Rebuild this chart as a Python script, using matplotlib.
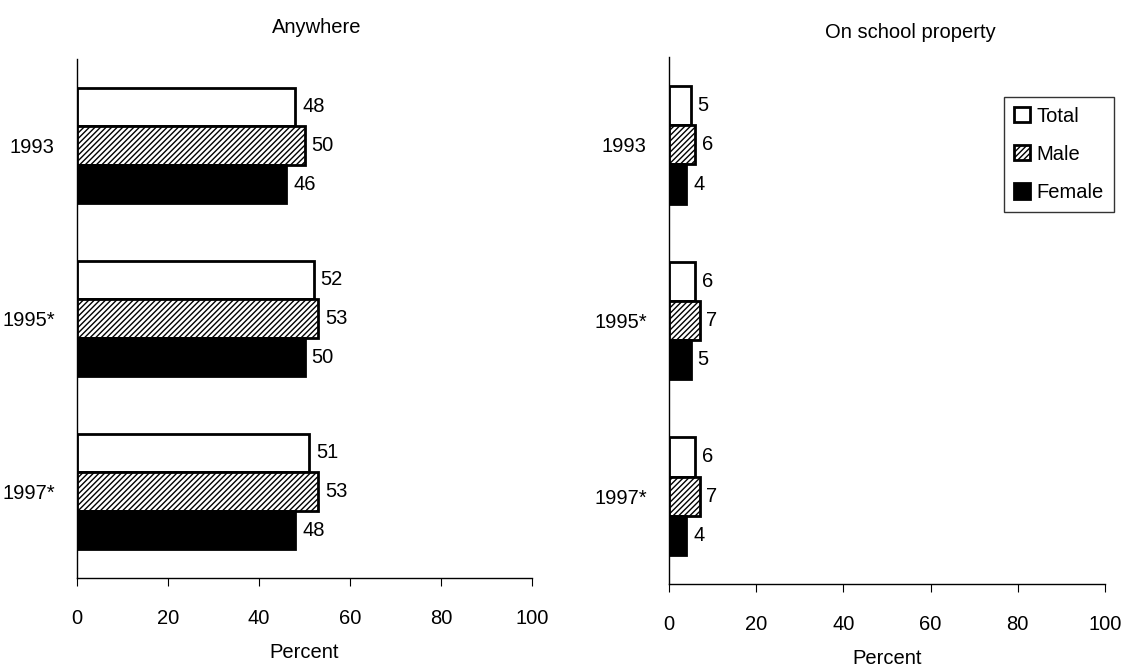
import matplotlib
matplotlib.use("Agg")
from matplotlib import pyplot as plt
import numpy as np

plt.rcParams["font.family"] = ["Liberation Sans Narrow", "Liberation Sans", "DejaVu Sans"]
plt.rcParams["hatch.linewidth"] = 1.0

years = ["1993", "1995*", "1997*"]
series = ["Total", "Male", "Female"]
anywhere_total = [48, 52, 51]
anywhere_male = [50, 53, 53]
anywhere_female = [46, 50, 48]
school_total = [5, 6, 6]
school_male = [6, 7, 7]
school_female = [4, 5, 4]

styles = [
    dict(facecolor="white", edgecolor="black", hatch=None),
    dict(facecolor="white", edgecolor="black", hatch="//////"),
    dict(facecolor="black", edgecolor="black", hatch=None),
]

fig = plt.figure(figsize=(11.23, 6.67), dpi=100)
W, H = 1123, 667
# axes boxes in pixels: left, top, right, bottom
ax1 = fig.add_axes([77 / W, 1 - 578 / H, (532 - 77) / W, (578 - 59) / H])
ax2 = fig.add_axes([669 / W, 1 - 584 / H, (1105 - 669) / W, (584 - 57) / H])

bar_h = 0.223
fs = 14.5


def draw(ax, data, title, title_x, title_pad, xlab_pad):
    y = np.arange(len(years))
    handles = []
    for i, (vals, st) in enumerate(zip(data, styles)):
        pos = y + (i - 1) * bar_h
        b = ax.barh(pos, vals, height=bar_h, facecolor=st["facecolor"],
                    edgecolor=st["edgecolor"], hatch=st["hatch"], linewidth=2,
                    label=series[i])
        handles.append(b)
        for p, v in zip(pos, vals):
            ax.annotate(str(v), (v, p), xytext=(5, 0), textcoords="offset points",
                        va="center", ha="left", fontsize=fs)
    ax.set_ylim(len(years) - 0.5, -0.5)
    ax.set_xlim(0, 100)
    ax.set_yticks(y)
    ax.set_yticklabels(years, fontsize=fs)
    ax.tick_params(axis="y", length=0, pad=16)
    ax.set_xticks(range(0, 101, 20))
    ax.tick_params(axis="x", labelsize=fs, length=6, direction="out", pad=16)
    ax.spines["top"].set_visible(False)
    ax.spines["right"].set_visible(False)
    for s in ("left", "bottom"):
        ax.spines[s].set_linewidth(1.0)
    ax.set_xlabel("Percent", fontsize=fs, labelpad=xlab_pad)
    ax.set_title(title, fontsize=fs, x=title_x, pad=title_pad)
    return handles


draw(ax1, [anywhere_total, anywhere_male, anywhere_female], "Anywhere", 0.527, 19, 11)
h = draw(ax2, [school_total, school_male, school_female], "On school property", 0.553, 14, 11)

leg = ax2.legend(handles=h, loc="upper right", bbox_to_anchor=(1.02, 0.925),
                 fontsize=fs, frameon=True, fancybox=False, edgecolor="black",
                 handlelength=0.8, handleheight=0.8, handletextpad=0.3,
                 labelspacing=0.95, borderpad=0.5, borderaxespad=0)
leg.get_frame().set_linewidth(1.0)

fig.savefig("out.png", dpi=100)
